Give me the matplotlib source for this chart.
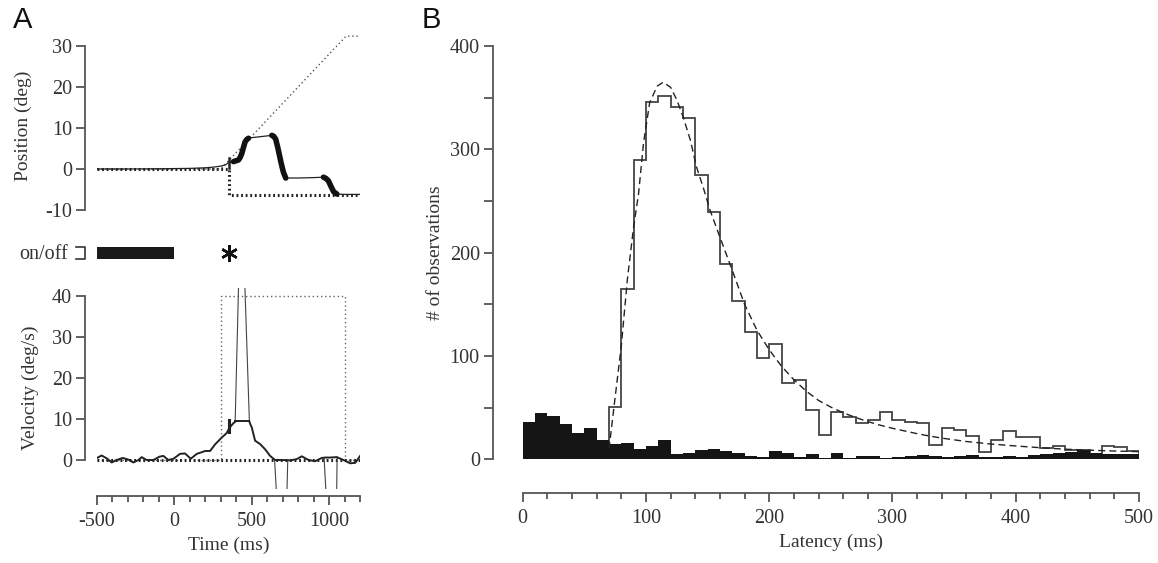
import matplotlib.pyplot as plt
from matplotlib.ticker import MultipleLocator, FixedLocator

plt.rcParams['font.family'] = ['Liberation Serif', 'DejaVu Serif']
plt.rcParams['axes.unicode_minus'] = False

# ---- panel A: position (deg) ----
eye_t = [-500, -300, -100, 0, 100, 200, 250, 300, 330, 355, 382, 414, 425, 436, 447, 457,
         468, 479, 490, 560, 630, 642, 655, 670, 690, 705, 720, 800, 900, 964, 980, 996,
         1012, 1029, 1050, 1100, 1200]
eye_pos = [0, 0, 0.05, 0.1, 0.15, 0.3, 0.45, 0.7, 1.0, 1.7, 1.8, 2.2, 2.8, 3.8, 5.3, 6.6,
           7.2, 7.5, 7.6, 7.9, 8.2, 8.0, 7.3, 5.0, 1.5, -0.8, -2.2, -2.2, -2.1, -2.0, -2.3, -2.9,
           -4.2, -5.5, -6.1, -6.2, -6.2]
sacc_on = [382, 630, 964]
sacc_off = [479, 720, 1050]
step_t = [-500, 355, 355, 1200]
step_pos = [0, 0, -6.3, -6.3]
ramp_t = [-500, 300, 1110, 1200]
ramp_pos = [0, 0, 32.4, 32.4]
mark_t = 355
mark_pos = [0.2, 2.7]

# ---- on/off row ----
on_start, on_end = -500, 0
star_t = 350

# ---- panel A: velocity (deg/s) ----
vel_t = [-500, -470, -437, -405, -373, -334, -297, -265, -232, -211, -179, -135, -97, -71,
         -39, -6, 37, 69, 106, 145, 177, 199, 231, 263, 307, 339, 355, 382, 393]
vel_v = [0.5, 1.1, 0.4, -0.6, 0, 0.5, 0.1, -0.6, 0, 0.7, 0, 0, 0.8, 1.0,
         0, 0.3, 1.5, 1.6, 0.3, 1.5, 1.9, 2.2, 2.2, 3.8, 5.5, 6.6, 7.8, 9.0, 9.3]
plateau_t = [393, 485]
plateau_v = [9.4, 9.4]
decay_t = [485, 490, 500, 522, 554, 587, 619, 651, 700, 748, 790, 824, 867, 910, 953, 975,
           1007, 1050, 1093, 1136, 1169, 1201]
decay_v = [9.4, 8.8, 8.0, 4.7, 3.9, 2.6, 1.0, 0, 0, -0.1, 0.2, 0.9, 0, -0.3, 0.5, 0.6,
           0.6, 0.7, 0, -0.8, -0.7, 1.0]
# saccade velocity edges (run off the plotted range)
spike_t = [[393, 420], [450, 485], [648, 666], [725, 733], [968, 986], [1048, 1052]]
spike_v = [[9.4, 50], [49, 9.4], [0, -12], [-12, 0], [0.5, -12], [-12, 0.7]]
tvel_t = [-500, 300, 300, 1100, 1100, 1200]
tvel_v = [0, 0, 40, 40, 0, 0]
vmark_v = [6.8, 9.8]

# ---- panel B: latency histograms (10 ms bins) ----
edges = list(range(0, 510, 10))
catch_counts = [35.8, 44.5, 42, 34, 25, 30, 19, 15, 15.8, 10, 13, 18.4, 4.8, 5.8, 9, 10.3,
                7.7, 6, 3.5, 2.6, 8.4, 5.8, 2.6, 5.2, 1, 5.8, 1.6, 3.2, 3.2, 1, 2.6, 3.2,
                3.9, 3.2, 2.6, 3.2, 4, 2, 2, 3.2, 2.6, 4.2, 5.2, 5.8, 7, 9, 6.5, 5, 5.5, 5.5]
resp_edges = list(range(70, 510, 10))
resp_counts = [51, 164.5, 290, 346, 352, 341, 330, 275, 239, 189, 153, 123, 98, 112, 74, 77,
               48, 24, 46, 41, 35.5, 38, 46, 38, 36, 35, 14, 30, 28, 23, 7.4, 19, 27, 22,
               22, 11, 13, 9, 9, 3, 13, 11.6, 8.5]
fit_lat = [70, 75, 80, 85, 90, 94, 98, 103, 109, 114, 120, 125, 130, 136, 141, 147, 152, 160,
           170, 180, 190, 200, 210, 220, 230, 240, 250, 260, 270, 280, 290, 300, 310, 320,
           330, 340, 360, 380, 400, 420, 440, 460, 480, 500]
fit_cnt = [10, 60, 110, 175, 225, 257, 306, 345, 361, 365, 360, 348, 332, 309, 283, 261, 241,
           215, 183, 150, 125, 106, 90, 77, 66, 57, 50.5, 45, 40.5, 36.5, 33, 30, 27.4, 24.8,
           22.5, 20.5, 17.2, 14.8, 12.9, 11.2, 9.8, 8.8, 8, 7.4]

ink = '#333333'
axis_c = '#555555'
W, H = 1158, 563
TICK_FS = 14.5
LAB_FS = 14


def box(x0, y0, x1, y1):
    return [x0 / W, 1 - y1 / H, (x1 - x0) / W, (y1 - y0) / H]


def style(ax, left_bounds, left_off):
    for s in ['top', 'right', 'bottom']:
        ax.spines[s].set_visible(False)
    ax.spines['left'].set_position(('outward', left_off))
    ax.spines['left'].set_bounds(*left_bounds)
    ax.spines['left'].set_color(axis_c)
    ax.spines['left'].set_linewidth(1.3)
    ax.tick_params(axis='y', colors=axis_c, labelcolor=ink, labelsize=TICK_FS,
                   length=6.5, width=1.3, pad=3)


def bottom_axis(ax, bounds, off):
    ax.spines['bottom'].set_visible(True)
    ax.spines['bottom'].set_position(('outward', off))
    ax.spines['bottom'].set_bounds(*bounds)
    ax.spines['bottom'].set_color(axis_c)
    ax.spines['bottom'].set_linewidth(1.3)
    ax.tick_params(axis='x', which='major', colors=axis_c, labelcolor=ink, labelsize=TICK_FS,
                   length=6.5, width=1.3, pad=5)
    ax.tick_params(axis='x', which='minor', colors=axis_c, length=4, width=1.3)


fig = plt.figure(figsize=(11.58, 5.63), dpi=100)

# position
ax1 = fig.add_axes(box(97, 33.7, 360, 218.2))
ax1.plot(ramp_t, ramp_pos, color='#555555', lw=1.0, ls=(0, (1, 2)))
ax1.plot(step_t, step_pos, color='#222222', lw=2.2, ls=(0, (0.6, 0.9)))
ax1.plot(eye_t, eye_pos, color='#222222', lw=0.9)
for a, b in zip(sacc_on, sacc_off):
    st = [t for t in eye_t if a <= t <= b]
    sp = [p for t, p in zip(eye_t, eye_pos) if a <= t <= b]
    ax1.plot(st, sp, color='#111111', lw=4, solid_capstyle='round')
ax1.plot([mark_t, mark_t], mark_pos, color='#222222', lw=1.8)
ax1.set_xlim(-500, 1200)
ax1.set_ylim(-12, 33)
style(ax1, (-10, 30), 8.6)
ax1.set_xticks([])
ax1.set_yticks([-10, 0, 10, 20, 30])
ax1.set_ylabel('Position (deg)', fontsize=LAB_FS, color=ink, labelpad=9)

# on/off row
ax0 = fig.add_axes(box(97, 240, 360, 266))
ax0.barh(0.5, on_end - on_start, left=on_start, height=0.45, color='#1a1a1a')
ax0.plot([star_t], [0.5], marker=(6, 2, 0), ms=12, mew=1.8, color='#111111')
ax0.plot([-636, -578, -578, -636], [0.72, 0.72, 0.28, 0.28], color=ink, lw=1.2, clip_on=False)
ax0.text(-690, 0.45, 'on/off', ha='right', va='center', fontsize=LAB_FS + 0.5, color=ink)
ax0.set_xlim(-500, 1200)
ax0.set_ylim(0, 1)
ax0.axis('off')

# velocity
ax2 = fig.add_axes(box(97, 287.8, 360, 488.7))
ax2.plot(tvel_t, tvel_v, color='#666666', lw=1.0, ls=(0, (1, 2)))
ax2.plot([-500, 1200], [0, 0], color='#222222', lw=2.2, ls=(0, (0.6, 0.9)))
for st, sv in zip(spike_t, spike_v):
    ax2.plot(st, sv, color='#444444', lw=0.8)
ax2.plot(vel_t, vel_v, color='#222222', lw=1.4)
ax2.plot(plateau_t, plateau_v, color='#222222', lw=1.4)
ax2.plot(decay_t, decay_v, color='#222222', lw=1.4)
ax2.plot([mark_t, mark_t], vmark_v, color='#222222', lw=2.2)
ax2.set_xlim(-500, 1200)
ax2.set_ylim(-7, 42)
style(ax2, (0, 40), 8.6)
ax2.set_yticks([0, 10, 20, 30, 40])
bottom_axis(ax2, (-500, 1200), 5.3)
ax2.xaxis.set_major_locator(FixedLocator([-500, 0, 500, 1000]))
ax2.xaxis.set_minor_locator(MultipleLocator(100))
ax2.set_ylabel('Velocity (deg/s)', fontsize=LAB_FS, color=ink, labelpad=9)
ax2.set_xlabel('Time (ms)', fontsize=LAB_FS, color=ink, labelpad=4)

# panel B
ax3 = fig.add_axes(box(522.7, 46, 1139, 459.3))
ax3.stairs(resp_counts, resp_edges, color='#444444', lw=1.3, zorder=2)
ax3.stairs(catch_counts, edges, fill=True, color='#151515', zorder=3)
ax3.plot(fit_lat, fit_cnt, color='#222222', lw=1.0, ls=(0, (5, 3)), zorder=4)
ax3.set_xlim(0, 500)
ax3.set_ylim(0, 400)
style(ax3, (0, 400), 21.4)
ax3.yaxis.set_major_locator(MultipleLocator(100))
ax3.yaxis.set_minor_locator(MultipleLocator(50))
ax3.tick_params(axis='y', which='minor', colors=axis_c, length=6.5, width=1.3)
bottom_axis(ax3, (0, 500), 24.3)
ax3.xaxis.set_major_locator(MultipleLocator(100))
ax3.xaxis.set_minor_locator(MultipleLocator(20))
ax3.set_ylabel('# of observations', fontsize=LAB_FS, color=ink, labelpad=4)
ax3.set_xlabel('Latency (ms)', fontsize=LAB_FS, color=ink, labelpad=4)

fig.text(13 / W, 1 - 6 / H, 'A', ha='left', va='top', fontsize=21, family='Liberation Sans', color='#111111')
fig.text(422 / W, 1 - 6 / H, 'B', ha='left', va='top', fontsize=21, family='Liberation Sans', color='#111111')

fig.savefig('out.png', dpi=100)
